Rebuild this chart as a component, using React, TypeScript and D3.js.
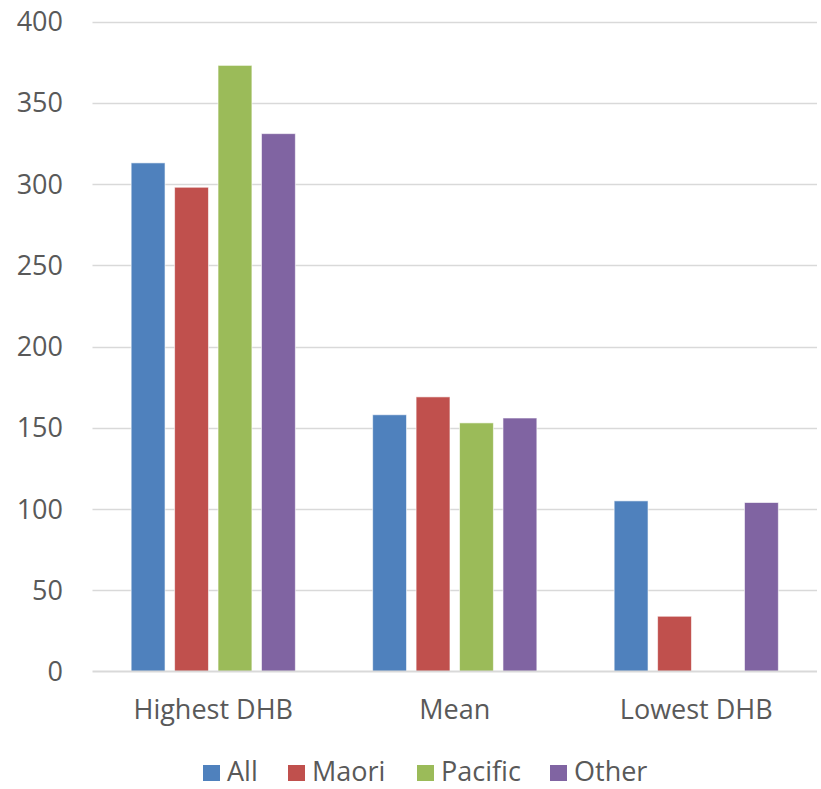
import React from "react";
import * as d3 from "d3";

const categories = ["Highest DHB", "Mean", "Lowest DHB"];
const seriesNames = ["All", "Maori", "Pacific", "Other"];
const seriesColors = ["#4F81BD", "#C0504D", "#9BBB59", "#8064A2"];
const allValues = [313, 158, 105];
const maoriValues = [298, 169, 34];
const pacificValues = [373, 153, 0];
const otherValues = [331, 156, 104];
const yTicks = [0, 50, 100, 150, 200, 250, 300, 350, 400];

const seriesValues = [allValues, maoriValues, pacificValues, otherValues];

export default function App() {
  const W = 821, H = 789;
  const left = 92.5, right = 817, top = 21.5, bottom = 671.5;
  const font = "'Open Sans', sans-serif";
  const textColor = "#595959";

  const x0 = d3.scaleBand<string>().domain(categories).range([left, right]).paddingInner(0.32).paddingOuter(0.16);
  const x1 = d3.scaleBand<string>().domain(seriesNames).range([0, x0.bandwidth()]).paddingInner(0.22);
  const y = d3.scaleLinear().domain([0, 400]).range([bottom, top]);

  const legendX = [203, 288, 417, 550];

  return (
    <svg width={W} height={H} style={{ position: "absolute", left: 0, top: 0, background: "#fff" }}>
      {yTicks.map((t) => (
        <g key={t}>
          {t !== 0 && (
            <line x1={left} x2={right} y1={Math.round(y(t)) + 0.5} y2={Math.round(y(t)) + 0.5} stroke="#D9D9D9" strokeWidth={1.5} />
          )}
          <text x={63} y={y(t)} dy="0.36em" textAnchor="end" fontFamily={font} fontSize={27} fill={textColor}>
            {t}
          </text>
        </g>
      ))}
      {categories.map((c, ci) => (
        <g key={c}>
          {seriesNames.map((s, si) => {
            const v = seriesValues[si][ci];
            if (v <= 0) return null;
            const bx = (x0(c) as number) + (x1(s) as number);
            return (
              <rect key={s} x={bx} y={y(v)} width={x1.bandwidth()} height={y(0) - y(v)} fill={seriesColors[si]} stroke="#fff" strokeOpacity={0.6} strokeWidth={1} />
            );
          })}
          <text x={(x0(c) as number) + x0.bandwidth() / 2} y={719} textAnchor="middle" fontFamily={font} fontSize={27} fill={textColor}>
            {c}
          </text>
        </g>
      ))}
      <line x1={left} x2={right} y1={bottom} y2={bottom} stroke="#D9D9D9" strokeWidth={2} />
      {seriesNames.map((s, i) => (
        <g key={s}>
          <rect x={legendX[i]} y={765} width={17} height={16} fill={seriesColors[i]} />
          <text x={legendX[i] + 24} y={781} fontFamily={font} fontSize={27} fill={textColor}>
            {s}
          </text>
        </g>
      ))}
    </svg>
  );
}
